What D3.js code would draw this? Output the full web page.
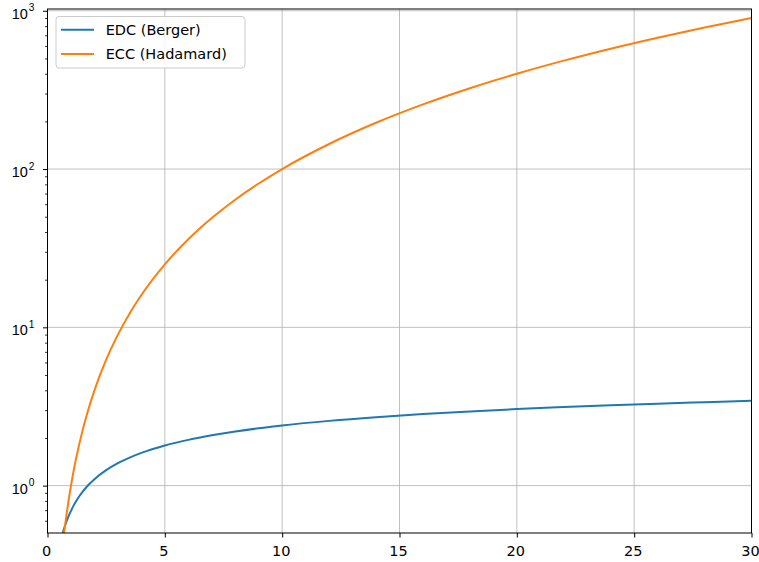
<!DOCTYPE html>
<html>
<head>
<meta charset="utf-8">
<script src="https://cdn.jsdelivr.net/npm/d3@7"></script>
<style>
  html, body { margin: 0; padding: 0; background: #fff; }
  svg { display: block; font-family: "DejaVu Sans", sans-serif; }
</style>
</head>
<body>
<svg id="chart" width="759" height="562"></svg>
<script>
// Sample positions along the x axis
const xValues = [0.6, 0.7, 0.8, 0.9, 1, 1.1, 1.25, 1.5, 1.75, 2, 2.5, 3, 3.5, 4, 5, 6, 7, 8, 9, 10, 12, 14, 16, 18, 20, 22, 24, 26, 28, 30];
// EDC (Berger) values
const edcValues = [0.470, 0.531, 0.588, 0.642, 0.693, 0.742, 0.811, 0.916, 1.012, 1.099, 1.253, 1.386, 1.504, 1.609, 1.792, 1.946, 2.079, 2.197, 2.303, 2.398, 2.565, 2.708, 2.833, 2.944, 3.045, 3.135, 3.219, 3.296, 3.367, 3.434];
// ECC (Hadamard) values
const eccValues = [0.36, 0.49, 0.64, 0.81, 1.0, 1.21, 1.56, 2.25, 3.06, 4, 6.25, 9, 12.25, 16, 25, 36, 49, 64, 81, 100, 144, 196, 256, 324, 400, 484, 576, 676, 784, 900];
const seriesNames = ["EDC (Berger)", "ECC (Hadamard)"];
const xTicks = [0, 5, 10, 15, 20, 25, 30];
const yMajorTicks = [1, 10, 100, 1000];
const yExponents = ["0", "1", "2", "3"];

const colors = ["#1f77b4", "#ff7f0e"];
const fontSize = 14.5;
const svg = d3.select("#chart");
const plotLeft = 47.5, plotRight = 751.5, plotTop = 9, plotBottom = 533;

const x = d3.scaleLinear().domain([0, 30]).range([plotLeft, plotRight]);
const y = d3.scaleLog().domain([0.502, 1026]).range([plotBottom, plotTop]);

// Grid lines
const grid = svg.append("g").attr("stroke", "#b0b0b0").attr("stroke-width", 0.8);
xTicks.forEach(t => grid.append("line")
  .attr("x1", x(t)).attr("x2", x(t)).attr("y1", plotTop).attr("y2", plotBottom));
yMajorTicks.forEach(t => grid.append("line")
  .attr("x1", plotLeft).attr("x2", plotRight).attr("y1", y(t)).attr("y2", y(t)));

// Clip region for the curves
svg.append("clipPath").attr("id", "plotClip").append("rect")
  .attr("x", plotLeft).attr("y", plotTop).attr("width", plotRight - plotLeft).attr("height", plotBottom - plotTop);

const line = d3.line()
  .x(d => x(d[0]))
  .y(d => y(d[1]))
  .curve(d3.curveMonotoneX);

[edcValues, eccValues].forEach((vals, i) => {
  svg.append("path")
    .datum(xValues.map((xv, j) => [xv, vals[j]]))
    .attr("clip-path", "url(#plotClip)")
    .attr("fill", "none")
    .attr("stroke", colors[i])
    .attr("stroke-width", 2)
    .attr("d", line);
});

// Axes
const xAxis = d3.axisBottom(x).tickValues(xTicks).tickSize(4.5).tickPadding(8.5).tickFormat(d3.format("d"));
const gx = svg.append("g").attr("transform", `translate(0,${plotBottom})`).call(xAxis);
gx.select(".domain").remove();
gx.selectAll("line").attr("stroke", "#000").attr("stroke-width", 1);
gx.selectAll("text").attr("font-size", fontSize).attr("fill", "#000")
  .attr("font-family", "DejaVu Sans").attr("dx", -1.5);

// y ticks: majors with labels and minors
const yMinor = [];
[0.1, 1, 10, 100].forEach(dec => { for (let k = 2; k <= 9; k++) yMinor.push(dec * k); });
const yAxisMinor = d3.axisLeft(y).tickValues(yMinor.filter(v => v >= 0.502 && v <= 1026)).tickSize(2.5).tickFormat("");
const gyMinor = svg.append("g").attr("transform", `translate(${plotLeft},0)`).call(yAxisMinor);
gyMinor.select(".domain").remove();
gyMinor.selectAll("line").attr("stroke", "#000").attr("stroke-width", 0.8);

const yAxis = d3.axisLeft(y).tickValues(yMajorTicks).tickSize(4.5).tickFormat("");
const gy = svg.append("g").attr("transform", `translate(${plotLeft},0)`).call(yAxis);
gy.select(".domain").remove();
gy.selectAll("line").attr("stroke", "#000").attr("stroke-width", 1);
gy.selectAll(".tick").each(function(d, i) {
  const t = d3.select(this).append("text")
    .attr("x", -13).attr("y", 7.6)
    .attr("text-anchor", "end")
    .attr("font-size", fontSize)
    .attr("fill", "#000");
  t.append("tspan").text("10");
  t.append("tspan").attr("dx", 1).attr("dy", -7.6).attr("font-size", 10.2).text(yExponents[i]);
});

// Frame
svg.append("rect")
  .attr("x", plotLeft).attr("y", plotTop).attr("width", plotRight - plotLeft).attr("height", plotBottom - plotTop)
  .attr("fill", "none").attr("stroke", "#000").attr("stroke-width", 1);

// Legend
const lg = svg.append("g");
lg.append("rect")
  .attr("x", 56).attr("y", 16.5).attr("width", 189).attr("height", 51.5)
  .attr("rx", 3).attr("fill", "#fff").attr("fill-opacity", 0.8)
  .attr("stroke", "#cccccc").attr("stroke-width", 1);
seriesNames.forEach((name, i) => {
  const yy = 29.7 + i * 24.3;
  lg.append("line").attr("x1", 61).attr("x2", 94).attr("y1", yy).attr("y2", yy)
    .attr("stroke", colors[i]).attr("stroke-width", 2);
  lg.append("text").attr("x", 105.7).attr("y", yy + 5.2)
    .attr("font-size", fontSize).attr("fill", "#000").text(name);
});
</script>
</body>
</html>
